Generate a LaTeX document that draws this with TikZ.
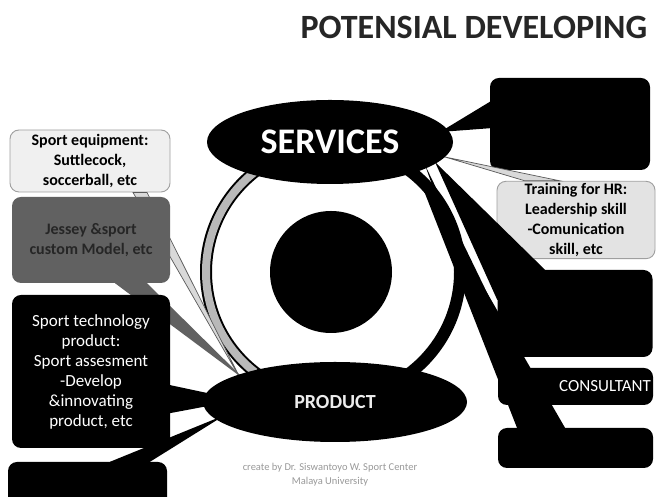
\documentclass[tikz,border=0pt]{standalone}
\usepackage{fontspec}
\setmainfont{Carlito}
\usetikzlibrary{shapes.geometric, positioning, calc}

\begin{document}
\begin{tikzpicture}[x=1pt, y=1pt,
  box/.style={rectangle, rounded corners=9pt, fill=black, text=white,
              inner sep=2pt, align=center},
  palebox/.style={box, fill=gray!12, draw=gray!75, line width=0.9pt, text=black},
  bigoval/.style={ellipse, fill=black, inner sep=0pt},
  palewedge/.style={fill=gray!30, draw=gray!70!black, line width=0.7pt},
  boxfont/.style={font=\fontsize{16}{20}\selectfont\bfseries}]

  \clip (0,0) rectangle (656,497);
  \fill[white] (0,0) rectangle (656,497);
  \coordinate (svc) at (330,355);
  \coordinate (prd) at (335,95);

  \node[anchor=west, font=\fontsize{34}{40}\selectfont\bfseries, text=black!85]
    (title) at (297,469.5) {POTENSIAL DEVELOPING};

  % ring round the hub
  \node[circle, draw, line width=12pt, minimum size=254pt] (ring) at (333,225) {};
  \draw[gray!55, line width=8pt] ([shift={(128:127)}]ring.center)
    arc[start angle=128, end angle=232, radius=127];

  % left column
  \node[palebox, boxfont, minimum width=160pt, minimum height=62pt]
    (equip) at (90,336) {Sport equipment:\\Suttlecock,\\soccerball, etc};
  \path[palewedge] ($(equip.south)+(43,0)$) -- ($(prd)+(-95,24)$)
    -- ($(equip.south)+(57,0)$) -- cycle;
  \node[box, fill=black!62, text=black!85, boxfont, minimum width=158pt,
        minimum height=86pt] (jersey) at (91,257) {Jessey \&sport\\custom Model, etc};
  \fill[black!62] ($(jersey.south)+(24,0)$) -- ($(prd)+(-90,22)$)
    -- ($(jersey.south)+(56,0)$) -- cycle;
  \node[box, font=\fontsize{17}{20}\selectfont, minimum width=158pt,
        minimum height=153pt] (tech) at (91,125.5)
    {Sport technology\\product:\\Sport assesment\\-Develop\\\&innovating\\product, etc};
  \fill ($(tech.east)+(-10,-11.5)$) -- ($(prd)+(-95,2)$)
    -- ($(tech.east)+(-10,-43.5)$) -- cycle;
  \node[box, minimum width=159pt, minimum height=48pt] (blbox) at (87.5,11) {};
  \fill ($(blbox.north)+(22.5,0)$) -- ($(prd)+(-110,-13)$)
    -- ($(blbox.north)+(62.5,0)$) -- cycle;

  % right column
  \node[box, minimum width=160pt, minimum height=92pt] (rtop) at (570,373) {};
  \fill ($(rtop.west)+(3,24)$) -- ($(svc)+(110,10)$) -- ($(rtop.west)+(3,-4)$) -- cycle;
  \node[palebox, fill=gray!22, boxfont, minimum width=158pt, minimum height=76pt]
    (training) at (576,277) {Training for HR:\\Leadership skill\\-Comunication\\skill, etc};
  \path[palewedge] ($(training.north)+(-51,0)$) -- ($(svc)+(115,-15)$)
    -- ($(training.north)+(-16,0)$) -- cycle;
  \node[box, minimum width=155pt, minimum height=87pt] (rmid) at (575,183.5) {};
  \node[box, font=\fontsize{17}{20}\selectfont, text width=151pt, align=right,
        minimum height=37pt] (consult) at (575.5,110.5) {CONSULTANT};
  \node[box, minimum width=155pt, minimum height=40pt] (rbot) at (575.5,49) {};
  \fill ($(rmid.north)+(-30,0)$) -- ($(svc)+(105,-20)$) -- ($(rmid.west)+(0,13.5)$) -- cycle;
  \fill ($(consult.north)+(-52,0)$) -- ($(svc)+(95,-23)$) -- ($(consult.west)+(0,16.5)$) -- cycle;
  \fill ($(rbot.north)+(-10.5,0)$) -- ($(svc)+(85,-26)$) -- ($(rbot.north)+(-58.5,0)$) -- cycle;

  % ovals and hub
  \node[bigoval, minimum width=246pt, minimum height=84pt, text=white,
        font=\fontsize{36}{40}\selectfont\bfseries] (services) at (svc) {SERVICES};
  \node[bigoval, minimum width=264pt, minimum height=80pt, text=gray!15,
        font=\fontsize{20}{24}\selectfont\bfseries] (product) at (prd) {PRODUCT};
  \node[circle, fill=black, minimum size=122pt] (hub) at (331,225) {};

  \node[font=\fontsize{10.5}{14}\selectfont, text=gray!80, align=center]
    (credit) at (330,22) {create by Dr. Siswantoyo W. Sport Center\\Malaya University};
\end{tikzpicture}
\end{document}
